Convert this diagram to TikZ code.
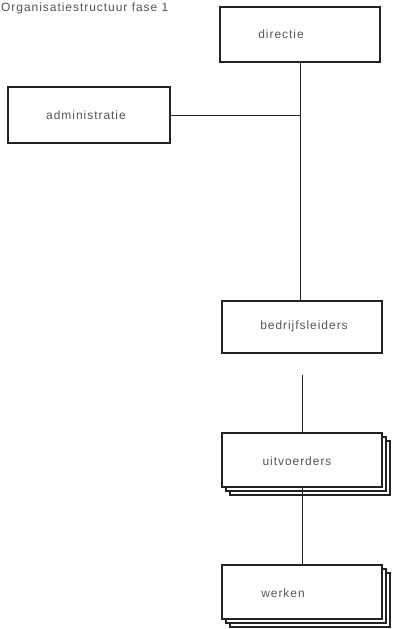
\documentclass[tikz,border=0pt]{standalone}
\usepackage{fontspec}
\setmainfont[LetterSpace=8]{Liberation Sans}
\definecolor{ink}{HTML}{222222}
\definecolor{txt}{HTML}{555555}
\begin{document}
\begin{tikzpicture}[x=1pt,y=-1pt,
  box/.style={draw=ink, line width=2.8pt, fill=white, inner sep=0pt, minimum width=160pt},
  conn/.style={draw=ink, line width=0.8pt},
  lbl/.style={text=txt, font=\fontsize{12}{14}\selectfont, anchor=base, inner sep=0pt}]
\useasboundingbox (0,0) rectangle (393,629);
\node[lbl, anchor=base west] (title) at (1,11) {Organisatiestructuur fase 1};
% boxes
\node[box, minimum height=55pt] (dir) at (300,34.5) {};
\node[box, minimum width=162pt, minimum height=56pt] (adm) at (89,115) {};
\node[box, minimum height=52pt] (bed) at (302,327) {};
\node[box, minimum height=54pt] (uitC) at (310,468) {};
\node[box, minimum height=54pt] (uitB) at (306,464) {};
\node[box, minimum height=54pt] (uit) at (302,460) {};
\node[box, minimum height=54pt] (werC) at (310,600) {};
\node[box, minimum height=54pt] (werB) at (306,596) {};
\node[box, minimum height=54pt] (wer) at (302,592) {};
% labels
\node[lbl] (tdir) at (281,38) {directie};
\node[lbl] (tadm) at (86,119) {administratie};
\node[lbl] (tbed) at (304,329) {bedrijfsleiders};
\node[lbl] (tuit) at (297,465) {uitvoerders};
\node[lbl] (twer) at (283,597) {werken};
% connectors
\coordinate (jn) at (dir.south |- adm.east);
\coordinate (free) at (302,375);
\draw[conn] (dir.south) -- (dir.south |- bed.north);
\draw[conn] (adm.east) -- (jn);
\draw[conn] (free) -- (uit.north);
\draw[conn] (uit.south) -- (wer.north);
\end{tikzpicture}
\end{document}
